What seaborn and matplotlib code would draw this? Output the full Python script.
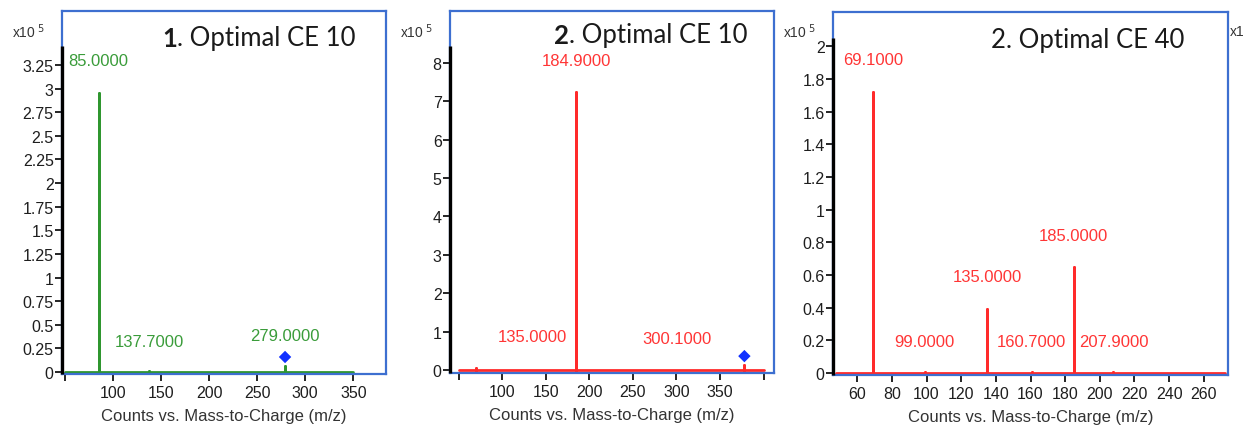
import pandas as pd
import matplotlib
matplotlib.use("Agg")
import matplotlib.pyplot as plt
import seaborn as sns

# intensities in units of 1e5 counts
mz_1 = [85.0, 137.7, 279.0]
counts_1 = [2.95, 0.012, 0.06]
labels_1 = ["85.0000", "137.7000", "279.0000"]
label_y_1 = [3.30, 0.32, 0.39]
span_1 = [50, 350]
marker_1 = [279.0, 0.16]

mz_2 = [70.0, 135.0, 184.9, 300.1, 378.0]
counts_2 = [0.05, 0.01, 7.25, 0.01, 0.13]
labels_2 = ["", "135.0000", "184.9000", "300.1000", ""]
label_y_2 = [0, 0.86, 8.07, 0.83, 0]
span_2 = [50, 400]
marker_2 = [378.0, 0.36]

mz_3 = [69.1, 99.0, 135.0, 160.7, 185.0, 207.9]
counts_3 = [1.72, 0.005, 0.39, 0.005, 0.65, 0.005]
labels_3 = ["69.1000", "99.0000", "135.0000", "160.7000", "185.0000", "207.9000"]
label_y_3 = [1.92, 0.19, 0.59, 0.19, 0.84, 0.19]
span_3 = [48, 272]

titles = [("1", ". Optimal CE 10", True), ("2", ". Optimal CE 10", True), ("2", ". Optimal CE 40", False)]

FRAME = "#3d6fd0"
GREEN = "#2f962f"
GREEN_TXT = "#3a9c3a"
RED = "#ff2a2a"
RED_TXT = "#ff3535"


def stick_frame(mz, counts, span):
    xs, ys = [span[0]], [0.0]
    for m, c in zip(mz, counts):
        xs += [m, m, m]
        ys += [0.0, c, 0.0]
    xs.append(span[1])
    ys.append(0.0)
    return pd.DataFrame({"mz": xs, "counts": ys})


def draw_panel(ax, mz, counts, span, labels, label_y, color, txt_color,
               xlim, ylim, axis_top, yticks, ylabels, xticks, xlabels, marker=None):
    df = stick_frame(mz, counts, span)
    sns.lineplot(data=df, x="mz", y="counts", sort=False, estimator=None,
                 color=color, lw=2, ax=ax)
    if marker is not None:
        sns.scatterplot(x=[marker[0]], y=[marker[1]], marker="D", color="#1030ff",
                        s=40, edgecolor="none", ax=ax, zorder=6)
    for m, lab, ly in zip(mz, labels, label_y):
        if lab:
            ax.text(m, ly, lab, color=txt_color, fontsize=12, ha="center", va="center",
                    family="Liberation Sans")
    ax.set_xlim(*xlim)
    ax.set_ylim(*ylim)
    ax.set_yticks(yticks)
    ax.set_yticklabels(ylabels)
    ax.set_xticks(xticks)
    ax.set_xticklabels(xlabels)
    for sp in ax.spines.values():
        sp.set_visible(True)
        sp.set_color(FRAME)
        sp.set_linewidth(1.6)
    ax.plot([xlim[0], xlim[0]], [ylim[0], axis_top], color="black", lw=2.4,
            clip_on=False, zorder=7, solid_capstyle="butt")
    ax.tick_params(axis="both", direction="out", length=5, width=1.2, color="black",
                   labelsize=11.5, labelcolor="#1e1e1e", bottom=True, left=True)
    ax.tick_params(axis="y", pad=1)
    ax.tick_params(axis="x", pad=3)
    for t in ax.get_xticklabels() + ax.get_yticklabels():
        t.set_family("Liberation Sans")
    ax.set_xlabel("Counts vs. Mass-to-Charge (m/z)", fontsize=12, color="#333333",
                  family="Liberation Sans", labelpad=6)
    ax.set_ylabel("")


def add_title(ax, x, y, num, rest, bold):
    t1 = ax.text(x, y, num, transform=ax.transAxes, fontsize=18.5, family="Lato",
                 fontweight="bold" if bold else "normal", color="#1a1a1a",
                 ha="left", va="center")
    ax.annotate(rest, xy=(1, 0), xycoords=t1, va="bottom", ha="left",
                fontsize=18.5, family="Lato", color="#1a1a1a")


def main():
    sns.set_style("white")
    plt.rcParams["font.family"] = ["Liberation Sans", "DejaVu Sans"]

    fig = plt.figure(figsize=(12.49, 4.27), dpi=100)
    ax1 = fig.add_axes([62 / 1249, 1 - 375 / 427, 324 / 1249, 363 / 427])
    ax2 = fig.add_axes([450 / 1249, 1 - 374 / 427, 324 / 1249, 362 / 427])
    ax3 = fig.add_axes([833 / 1249, 1 - 376 / 427, 395 / 1249, 363 / 427])

    y1 = [0, 0.25, 0.5, 0.75, 1, 1.25, 1.5, 1.75, 2, 2.25, 2.5, 2.75, 3, 3.25]
    x1 = list(range(50, 351, 50))
    draw_panel(ax1, mz_1, counts_1, span_1, labels_1, label_y_1, GREEN, GREEN_TXT,
               (47, 384), (-0.02, 3.82), 3.45, y1, [f"{v:g}" for v in y1],
               x1, [""] + [str(v) for v in x1[1:]], marker_1)

    y2 = list(range(0, 9))
    x2 = list(range(50, 401, 50))
    draw_panel(ax2, mz_2, counts_2, span_2, labels_2, label_y_2, RED, RED_TXT,
               (40, 412), (-0.08, 9.35), 8.44, y2, [str(v) for v in y2],
               x2, [""] + [str(v) for v in x2[1:-1]] + [""], marker_2)

    y3 = [0, 0.2, 0.4, 0.6, 0.8, 1, 1.2, 1.4, 1.6, 1.8, 2]
    x3 = list(range(60, 261, 20))
    draw_panel(ax3, mz_3, counts_3, span_3, labels_3, label_y_3, RED, RED_TXT,
               (46, 274), (-0.012, 2.21), 2.05, y3, [f"{v:g}" for v in y3],
               x3, [str(v) for v in x3])

    add_title(ax1, 0.31, 0.925, *titles[0])
    add_title(ax2, 0.32, 0.935, *titles[1])
    add_title(ax3, 0.40, 0.925, *titles[2])

    for px in [12, 400, 783]:
        fig.text(px / 1249, 1 - 32 / 427, r"x10$^{\ 5}$", fontsize=10, color="#333333",
                 family="Liberation Sans", ha="left", va="center")
    fig.text(1230 / 1249, 1 - 32 / 427, "x1", fontsize=10, color="#333333",
             family="Liberation Sans", ha="left", va="center")

    fig.savefig("out.png", dpi=100)


if __name__ == "__main__":
    main()
